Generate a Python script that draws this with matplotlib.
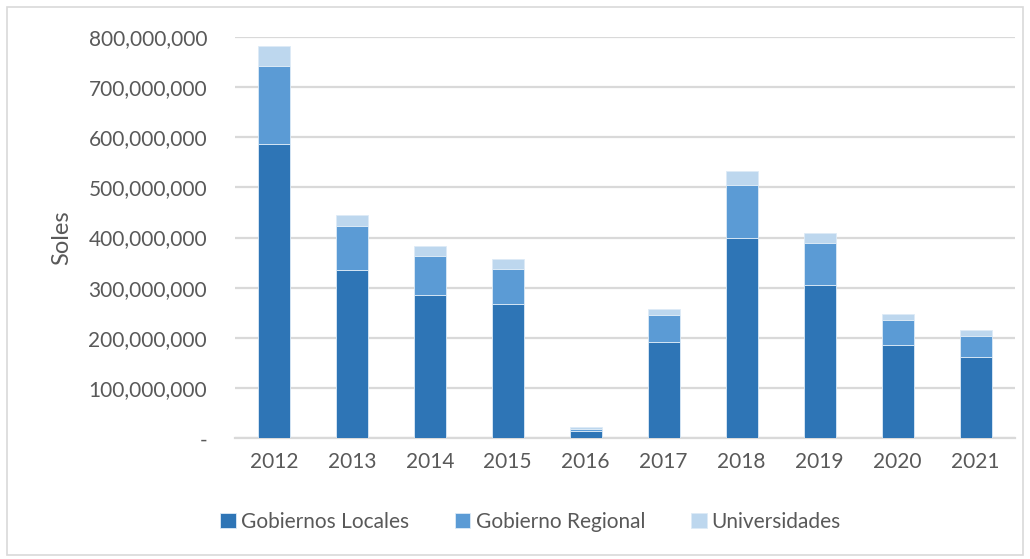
import matplotlib.pyplot as plt
from matplotlib.patches import Rectangle
from matplotlib.ticker import FuncFormatter

plt.rcParams['font.family'] = ['Lato', 'DejaVu Sans']

years = ['2012', '2013', '2014', '2015', '2016', '2017', '2018', '2019', '2020', '2021']
# millones de soles
gob_locales = [585.7, 334.7, 286.0, 267.0, 15.0, 192.4, 398.4, 306.0, 185.9, 161.4]
gob_regional = [156.3, 88.2, 77.7, 70.9, 4.0, 52.6, 106.2, 82.4, 49.8, 43.0]
universidades = [39.5, 21.9, 19.4, 18.7, 3.0, 12.6, 27.3, 21.2, 12.5, 11.3]

txt = '#595959'
grid = '#D9D9D9'

fig = plt.figure(figsize=(10.3, 5.59), dpi=100)
ax = fig.add_axes([0.228, 0.216, 0.757, 0.718])

x = range(len(years))
gl = [v * 1e6 for v in gob_locales]
gr = [v * 1e6 for v in gob_regional]
un = [v * 1e6 for v in universidades]
base2 = [a + b for a, b in zip(gl, gr)]

w = 0.41
ec = '#DDEBF7'
ax.bar(x, gl, w, color='#2E75B6', edgecolor=ec, linewidth=0.6, label='Gobiernos Locales', zorder=3)
ax.bar(x, gr, w, bottom=gl, color='#5B9BD5', edgecolor=ec, linewidth=0.6, label='Gobierno Regional', zorder=3)
ax.bar(x, un, w, bottom=base2, color='#BDD7EE', edgecolor=ec, linewidth=0.6, label='Universidades', zorder=3)

ax.set_xlim(-0.5, len(years) - 0.5)
ax.set_ylim(0, 800e6)
ax.set_yticks([i * 100e6 for i in range(9)])
ax.yaxis.set_major_formatter(FuncFormatter(lambda v, p: '-' if v == 0 else f'{v:,.0f}'))
ax.set_xticks(list(x))
ax.set_xticklabels(years)

ax.grid(axis='y', color=grid, linewidth=1.6, zorder=0)
for s in ['top', 'right', 'left']:
    ax.spines[s].set_visible(False)
ax.spines['bottom'].set_color(grid)
ax.spines['bottom'].set_linewidth(1.6)
ax.tick_params(axis='both', length=0, labelsize=15, colors=txt)
ax.tick_params(axis='y', pad=20)
ax.tick_params(axis='x', pad=10)

ax.set_ylabel('Soles', fontsize=17, color=txt, labelpad=12)

leg = fig.legend(loc='center', bbox_to_anchor=(0.515, 0.066), ncol=3, frameon=False,
                 fontsize=15, handlelength=0.75, handleheight=0.75, handletextpad=0.25,
                 columnspacing=2.2, labelcolor=txt)

fig.patches.append(Rectangle((0.007, 0.007), 0.986, 0.98, transform=fig.transFigure,
                             fill=False, edgecolor='#D9D9D9', linewidth=1.2))

fig.savefig('out.png', dpi=100)
